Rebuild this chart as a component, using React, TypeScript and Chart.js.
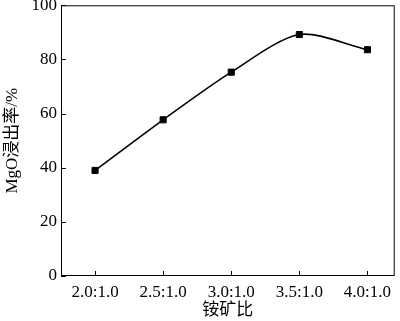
import React, { useEffect, useRef } from "react";
import { Chart, registerables } from "chart.js";

Chart.register(...registerables);

const ratios = [2.0, 2.5, 3.0, 3.5, 4.0];
const ratioLabels = ["2.0:1.0", "2.5:1.0", "3.0:1.0", "3.5:1.0", "4.0:1.0"];
const mgoLeaching = [39.0, 57.7, 75.3, 89.2, 83.6];
const yTicks = [0, 20, 40, 60, 80, 100];
const xTitle = "铵矿比";
const yTitle = "MgO浸出率/%";

const FONT = "'Liberation Serif', 'Noto Sans CJK SC', serif";

const framePlugin = {
  id: "frame",
  afterDraw(chart: any) {
    const { ctx, chartArea: a, scales } = chart;
    ctx.save();
    ctx.strokeStyle = "#000";
    ctx.lineWidth = 1;
    ctx.strokeRect(a.left + 0.5, a.top + 0.5, a.right - a.left - 1, a.bottom - a.top - 1);
    ctx.beginPath();
    for (const v of yTicks) {
      const y = Math.round(scales.y.getPixelForValue(v)) + 0.5;
      ctx.moveTo(a.left, y);
      ctx.lineTo(a.left + 5, y);
    }
    for (const v of ratios) {
      const x = Math.round(scales.x.getPixelForValue(v)) + 0.5;
      ctx.moveTo(x, a.bottom);
      ctx.lineTo(x, a.bottom - 5);
    }
    ctx.stroke();
    ctx.restore();
  },
};

export default function App() {
  const ref = useRef<HTMLCanvasElement | null>(null);
  useEffect(() => {
    if (!ref.current) return;
    const chart = new Chart(ref.current, {
      type: "line",
      data: {
        datasets: [
          {
            data: ratios.map((r, i) => ({ x: r, y: mgoLeaching[i] })),
            borderColor: "#000",
            backgroundColor: "#000",
            borderWidth: 1.6,
            tension: 0.28,
            pointStyle: "rect",
            pointRadius: 4.3,
            pointBorderWidth: 1,
            pointBackgroundColor: "#000",
            pointBorderColor: "#000",
          },
        ],
      },
      plugins: [framePlugin],
      options: {
        animation: false,
        responsive: false,
        maintainAspectRatio: false,
        layout: { padding: { top: 5, right: 5, bottom: 0, left: 0 } },
        plugins: { legend: { display: false }, tooltip: { enabled: false } },
        scales: {
          x: {
            type: "linear",
            min: 1.75,
            max: 4.2,
            afterBuildTicks: (s: any) => {
              s.ticks = ratios.map((v) => ({ value: v }));
            },
            afterFit: (s: any) => {
              s.height = 45;
              s.paddingLeft = 0;
              s.paddingRight = 0;
            },
            grid: { display: false, drawTicks: false },
            border: { display: false },
            ticks: {
              color: "#000",
              font: { family: FONT, size: 17 },
              padding: 6,
              maxRotation: 0,
              autoSkip: false,
              callback: (v: any) => {
                const i = ratios.indexOf(Number(v));
                return i >= 0 ? ratioLabels[i] : "";
              },
            },
            title: {
              display: true,
              text: xTitle,
              color: "#000",
              font: { family: FONT, size: 17 },
              padding: { top: 1, bottom: 0 },
            },
          },
          y: {
            type: "linear",
            min: 0,
            max: 100,
            afterBuildTicks: (s: any) => {
              s.ticks = yTicks.map((v) => ({ value: v }));
            },
            afterFit: (s: any) => {
              s.width = 61;
              s.paddingTop = 0;
              s.paddingBottom = 0;
            },
            grid: { display: false, drawTicks: false },
            border: { display: false },
            ticks: {
              color: "#000",
              font: { family: FONT, size: 17 },
              padding: 4,
            },
            title: {
              display: true,
              text: yTitle,
              color: "#000",
              font: { family: FONT, size: 17 },
              padding: { top: 2, bottom: 2 },
            },
          },
        },
      },
    });
    return () => chart.destroy();
  }, []);
  return (
    <div style={{ position: "absolute", left: 0, top: 0, width: 400, height: 321, background: "#fff" }}>
      <canvas ref={ref} width={400} height={321} style={{ width: 400, height: 321 }} />
    </div>
  );
}
